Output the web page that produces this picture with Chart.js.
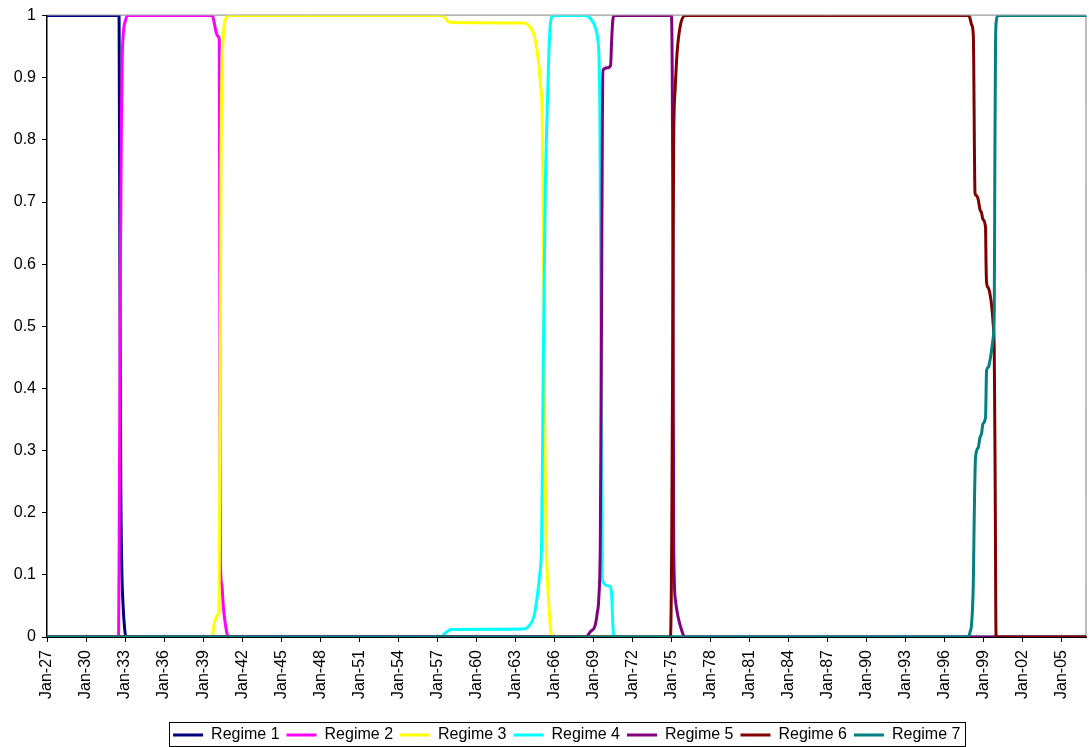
<!DOCTYPE html>
<html>
<head>
<meta charset="utf-8">
<script src="https://cdn.jsdelivr.net/npm/chart.js@4.4.1/dist/chart.umd.min.js"></script>
<style>
  html, body { margin: 0; padding: 0; background: #fff; }
  #wrap { width: 1089px; height: 747px; }
</style>
</head>
<body>
<div id="wrap"><canvas id="chart" width="1089" height="747"></canvas></div>
<script>
const regimeNames = ['Regime 1', 'Regime 2', 'Regime 3', 'Regime 4', 'Regime 5', 'Regime 6', 'Regime 7'];
const regimeColors = ['#000080', '#FF00FF', '#FFFF00', '#00FFFF', '#800080', '#800000', '#008080'];

const tickYears = [1927, 1930, 1933, 1936, 1939, 1942, 1945, 1948, 1951, 1954, 1957, 1960, 1963, 1966,
  1969, 1972, 1975, 1978, 1981, 1984, 1987, 1990, 1993, 1996, 1999, 2002, 2005];
const tickLabels = ['Jan-27', 'Jan-30', 'Jan-33', 'Jan-36', 'Jan-39', 'Jan-42', 'Jan-45', 'Jan-48', 'Jan-51',
  'Jan-54', 'Jan-57', 'Jan-60', 'Jan-63', 'Jan-66', 'Jan-69', 'Jan-72', 'Jan-75', 'Jan-78', 'Jan-81',
  'Jan-84', 'Jan-87', 'Jan-90', 'Jan-93', 'Jan-96', 'Jan-99', 'Jan-02', 'Jan-05'];
const yTickValues = [0, 0.1, 0.2, 0.3, 0.4, 0.5, 0.6, 0.7, 0.8, 0.9, 1];
const yTickLabels = ['0', '0.1', '0.2', '0.3', '0.4', '0.5', '0.6', '0.7', '0.8', '0.9', '1'];

// [date as decimal year, probability]
const regime1 = [[1927.0, 1], [1932.54, 1], [1932.60, 0.6], [1932.67, 0.25], [1932.74, 0.12], [1932.85, 0.05],
  [1932.96, 0.015], [1933.06, 0], [2006.9, 0]];
const regime2 = [[1927.0, 0], [1932.50, 0], [1932.56, 0.2], [1932.64, 0.6], [1932.72, 0.83], [1932.78, 0.93],
  [1932.88, 0.975], [1933.00, 0.99], [1933.18, 1], [1939.70, 1], [1939.84, 0.99], [1939.98, 0.975],
  [1940.12, 0.967], [1940.24, 0.962], [1940.29, 0.5], [1940.33, 0.12], [1940.43, 0.085], [1940.55, 0.05],
  [1940.70, 0.022], [1940.94, 0], [2006.9, 0]];
const regime3 = [[1927.0, 0], [1939.70, 0], [1939.80, 0.015], [1939.95, 0.028], [1940.10, 0.035], [1940.22, 0.04],
  [1940.30, 0.3], [1940.37, 0.75], [1940.45, 0.92], [1940.52, 0.955], [1940.62, 0.985], [1940.78, 0.997],
  [1940.95, 1], [1957.38, 1], [1957.60, 0.996], [1957.80, 0.991], [1958.04, 0.989], [1963.66, 0.988],
  [1964.18, 0.98], [1964.43, 0.969], [1964.68, 0.942], [1964.94, 0.889], [1965.07, 0.83], [1965.20, 0.5],
  [1965.30, 0.25], [1965.37, 0.156], [1965.58, 0.049], [1965.83, 0], [2006.9, 0]];
const regime4 = [[1927.0, 0], [1957.10, 0], [1957.40, 0.002], [1957.65, 0.007], [1957.85, 0.01], [1958.04, 0.012],
  [1963.66, 0.013], [1964.05, 0.018], [1964.43, 0.033], [1964.68, 0.065], [1964.87, 0.10], [1965.02, 0.156],
  [1965.15, 0.45], [1965.30, 0.72], [1965.45, 0.85], [1965.58, 0.942], [1965.71, 0.99], [1965.89, 1],
  [1968.40, 1], [1968.78, 0.995], [1969.16, 0.98], [1969.36, 0.958], [1969.42, 0.937], [1969.50, 0.83],
  [1969.60, 0.4], [1969.66, 0.15], [1969.70, 0.09], [1970.24, 0.082], [1970.36, 0.076], [1970.42, 0.06],
  [1970.50, 0.015], [1970.58, 0], [2006.9, 0]];
const regime5 = [[1927.0, 0], [1968.40, 0], [1968.78, 0.009], [1969.11, 0.017], [1969.29, 0.038], [1969.42, 0.065],
  [1969.53, 0.156], [1969.62, 0.5], [1969.69, 0.83], [1969.74, 0.912], [1970.07, 0.916], [1970.32, 0.92],
  [1970.40, 0.96], [1970.48, 0.99], [1970.57, 1], [1975.00, 1], [1975.06, 0.9], [1975.12, 0.6],
  [1975.17, 0.156], [1975.30, 0.06], [1975.50, 0.033], [1975.81, 0.009], [1976.02, 0], [2006.9, 0]];
const regime6 = [[1927.0, 0], [1974.92, 0], [1975.02, 0.156], [1975.10, 0.5], [1975.17, 0.8], [1975.28, 0.88],
  [1975.43, 0.94], [1975.69, 0.985], [1976.07, 1], [1997.81, 1], [1997.94, 0.996], [1998.07, 0.985],
  [1998.20, 0.969], [1998.33, 0.715], [1998.40, 0.711], [1998.58, 0.704], [1998.71, 0.688], [1998.83, 0.683],
  [1998.94, 0.672], [1999.14, 0.659], [1999.18, 0.6], [1999.22, 0.570], [1999.35, 0.562], [1999.48, 0.552],
  [1999.60, 0.535], [1999.73, 0.503], [1999.81, 0.461], [1999.88, 0.25], [1999.95, 0], [2006.9, 0]];
const regime7 = [[1927.0, 0], [1997.81, 0], [1997.95, 0.008], [1998.07, 0.022], [1998.20, 0.086], [1998.27, 0.193],
  [1998.37, 0.289], [1998.58, 0.305], [1998.71, 0.321], [1998.83, 0.327], [1998.94, 0.343], [1999.14, 0.354],
  [1999.22, 0.429], [1999.35, 0.434], [1999.48, 0.445], [1999.60, 0.461], [1999.73, 0.482], [1999.81, 0.525],
  [1999.86, 0.78], [1999.91, 0.96], [1999.98, 0.993], [2000.08, 1], [2006.9, 1]];

const regimes = [regime1, regime2, regime3, regime4, regime5, regime6, regime7];

Chart.defaults.font.family = '"Liberation Sans", Arial, sans-serif';
Chart.defaults.font.size = 16;
Chart.defaults.color = '#000';

// grey plot-area frame (top/right) and the box round the legend
const frames = {
  id: 'frames',
  beforeDatasetsDraw(chart) {
    const { ctx, chartArea: a } = chart;
    ctx.save();
    ctx.strokeStyle = '#808080';
    ctx.lineWidth = 1;
    ctx.beginPath();
    ctx.moveTo(a.left, a.top - 0.5);
    ctx.lineTo(a.right - 0.5, a.top - 0.5);
    ctx.lineTo(a.right - 0.5, a.bottom);
    ctx.stroke();
    ctx.restore();
  },
  afterDraw(chart) {
    const lg = chart.legend;
    if (!lg || !lg.lineWidths) return;
    const pad = lg.options.labels.padding;
    const lw = lg.lineWidths[0];
    const x0 = (lg.left + pad + lg.right - lw) / 2;
    const x1 = x0 + lw - pad;
    const cy = lg.top + pad + 8;
    const ctx = chart.ctx;
    ctx.save();
    ctx.strokeStyle = '#000';
    ctx.lineWidth = 1;
    ctx.strokeRect(Math.round(x0 - 4) + 0.5, Math.round(cy - 13) + 0.5, Math.round(x1 - x0 + 9), 24);
    ctx.restore();
  }
};

const ctx = document.getElementById('chart').getContext('2d');

new Chart(ctx, {
  type: 'line',
  data: {
    datasets: regimes.map((pts, i) => ({
      label: regimeNames[i],
      data: pts.map(p => ({ x: p[0], y: p[1] })),
      borderColor: regimeColors[i],
      backgroundColor: regimeColors[i],
      borderWidth: 3,
      pointRadius: 0,
      fill: false,
      cubicInterpolationMode: 'monotone',
      borderJoinStyle: 'round',
      order: regimes.length - 1 - i
    }))
  },
  options: {
    responsive: false,
    animation: false,
    layout: { padding: { left: 0, right: 1, top: 14, bottom: -6 } },
    plugins: {
      tooltip: { enabled: false },
      legend: {
        position: 'bottom',
        fullSize: false,
        labels: {
          usePointStyle: true,
          pointStyle: 'line',
          pointStyleWidth: 30,
          padding: 7,
          color: '#000',
          sort: (a, b) => a.datasetIndex - b.datasetIndex
        }
      }
    },
    scales: {
      x: {
        type: 'linear',
        min: 1927,
        max: 2006.9,
        afterBuildTicks: s => { s.ticks = tickYears.map(v => ({ value: v })); },
        afterFit: s => { s.height = 83; },
        grid: { drawOnChartArea: false, drawTicks: true, tickLength: 5, color: '#000' },
        border: { display: true, color: '#000', width: 1 },
        ticks: {
          autoSkip: false,
          minRotation: 90,
          maxRotation: 90,
          padding: 8,
          color: '#000',
          callback: (v, i) => tickLabels[i]
        }
      },
      y: {
        min: 0,
        max: 1,
        afterBuildTicks: s => { s.ticks = yTickValues.map(v => ({ value: v })); },
        afterFit: s => { s.width = 47; },
        grid: { drawOnChartArea: false, drawTicks: true, tickLength: 5, color: '#000' },
        border: { display: true, color: '#000', width: 1.5 },
        ticks: {
          padding: 6,
          color: '#000',
          callback: (v, i) => yTickLabels[i]
        }
      }
    }
  },
  plugins: [frames]
});
</script>
</body>
</html>
